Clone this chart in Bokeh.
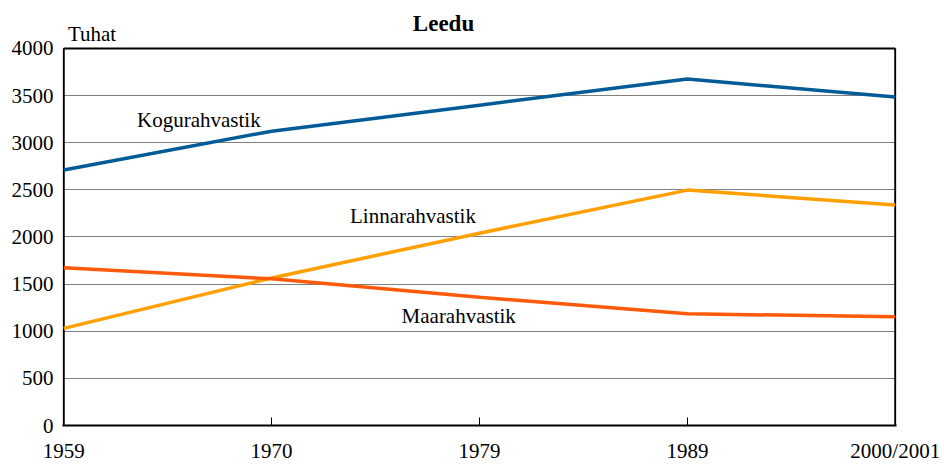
from bokeh.plotting import figure
from bokeh.models import Label, FixedTicker, Range1d
from bokeh.embed import file_html
from bokeh.resources import INLINE

categories = ["1959", "1970", "1979", "1989", "2000/2001"]
kogu = [2711, 3122, 3398, 3675, 3484]
linna = [1030, 1565, 2040, 2497, 2339]
maa = [1672, 1556, 1360, 1185, 1153]
y_ticks = [0, 500, 1000, 1500, 2000, 2500, 3000, 3500, 4000]
y_max = 4000

FONT = "Liberation Serif"
xs = list(range(len(categories)))
x_last = len(categories) - 1

p = figure(width=940, height=465, output_backend="svg", toolbar_location=None,
           title=None,
           x_range=Range1d(-0.006, x_last + 0.006), y_range=Range1d(0, 4508),
           min_border_left=62, min_border_right=44, min_border_top=0, min_border_bottom=39)
p.outline_line_color = None
p.background_fill_color = "white"
p.border_fill_color = "white"

p.xaxis.ticker = FixedTicker(ticks=xs)
p.xaxis.major_label_overrides = {i: c for i, c in enumerate(categories)}
p.xaxis.major_tick_in = 8
p.xaxis.major_tick_out = 0
p.xaxis.major_tick_line_color = "black"
p.xaxis.minor_tick_line_color = None
p.xaxis.axis_line_color = "black"
p.xaxis.axis_line_width = 2
p.xaxis.major_label_standoff = 13
p.xaxis.major_label_text_font = FONT
p.xaxis.major_label_text_font_size = "21px"
p.xaxis.major_label_text_color = "black"
p.xgrid.grid_line_color = None

p.yaxis.ticker = FixedTicker(ticks=y_ticks)
p.yaxis.major_tick_in = 0
p.yaxis.major_tick_out = 0
p.yaxis.minor_tick_line_color = None
p.yaxis.axis_line_color = None
p.yaxis.major_label_standoff = 9
p.yaxis.major_label_text_font = FONT
p.yaxis.major_label_text_font_size = "21px"
p.yaxis.major_label_text_color = "black"
p.ygrid.grid_line_color = "#808080"
p.ygrid.grid_line_width = 1

# plot frame (left, top, right borders)
p.segment(x0=[0, 0, x_last], y0=[0, y_max, 0], x1=[0, x_last, x_last], y1=[y_max, y_max, y_max],
          line_color="black", line_width=2)

p.line(xs, kogu, line_color="#005b96", line_width=3.5)
p.line(xs, linna, line_color="#ffa000", line_width=3.5)
p.line(xs, maa, line_color="#ff5a0a", line_width=3.5)

def lab(text, x, y, size="21px", **kw):
    p.add_layout(Label(x=x, y=y, text=text, text_font=FONT, text_font_size=size,
                       text_color="black", **kw))

lab("Kogurahvastik", 0.65, 3240, text_align="center", text_baseline="middle")
lab("Linnarahvastik", 1.68, 2222, text_align="center", text_baseline="middle")
lab("Maarahvastik", 1.9, 1160, text_align="center", text_baseline="middle")
lab("Tuhat", 0.02, 4150, text_align="left", text_baseline="middle")
lab("Leedu", 1.827, 4265, size="23px", text_align="center", text_baseline="middle",
    text_font_style="bold")

open("out.html", "w").write(file_html(p, INLINE))
